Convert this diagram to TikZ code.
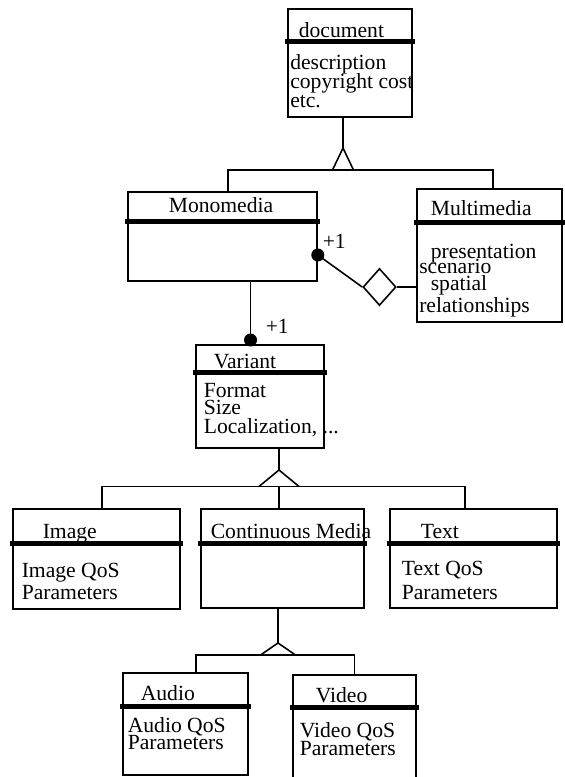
\documentclass[tikz,border=0pt]{standalone}
\usepackage{fontspec}
\setmainfont{Liberation Serif}
\usetikzlibrary{shapes.geometric}

\newcommand{\classbar}[2]{\draw[band] ([shift={(-0.05,-#2)}]#1.north west) -- ([shift={(0.05,-#2)}]#1.north east);}

\begin{document}
\begin{tikzpicture}[line width=0.9pt, font=\fontsize{12.3}{14}\selectfont,
    main/.style = {draw, rectangle, inner sep=0pt},
    txt/.style = {inner sep=0pt, anchor=mid west, yshift=-0.06cm},
    band/.style = {line width=0.1cm}]
\useasboundingbox (0,0) rectangle (11.28,-15.54);

% classes
\node[main, minimum width=2.48cm, minimum height=2.16cm] (doc) at (7.00,-1.26) {};
\node[main, minimum width=3.78cm, minimum height=1.78cm] (mono) at (4.45,-4.73) {};
\node[main, minimum width=2.90cm, minimum height=2.66cm] (multi) at (9.79,-5.11) {};
\node[main, minimum width=2.56cm, minimum height=2.06cm] (var) at (5.20,-7.93) {};
\node[main, minimum width=3.34cm, minimum height=2.00cm] (img) at (1.93,-11.18) {};
\node[main, minimum width=3.26cm, minimum height=1.98cm] (cont) at (5.65,-11.17) {};
\node[main, minimum width=3.34cm, minimum height=1.98cm] (text) at (9.47,-11.17) {};
\node[main, minimum width=2.50cm, minimum height=2.04cm] (audio) at (3.71,-14.48) {};
\node[main, minimum width=2.46cm, minimum height=2.12cm] (video) at (7.09,-14.56) {};

\classbar{doc}{0.66}
\classbar{mono}{0.60}
\classbar{multi}{0.68}
\classbar{var}{0.56}
\classbar{img}{0.70}
\classbar{cont}{0.70}
\classbar{text}{0.70}
\classbar{audio}{0.68}
\classbar{video}{0.66}

% names and attributes
\node[txt] (doc-n) at (5.96,-0.60) {document};
\node[txt] (doc-1) at (5.79,-1.24) {description};
\node[txt] (doc-2) at (5.79,-1.63) {copyright cost};
\node[txt] (doc-3) at (5.79,-2.00) {etc.};

\node[txt] (mono-n) at (3.36,-4.10) {Monomedia};

\node[txt] (multi-n) at (8.60,-4.16) {Multimedia};
\node[txt] (multi-1) at (8.60,-5.02) {presentation};
\node[txt] (multi-2) at (8.37,-5.33) {scenario};
\node[txt] (multi-3) at (8.60,-5.66) {spatial};
\node[txt] (multi-4) at (8.37,-6.10) {relationships};

\node[txt] (var-n) at (4.26,-7.22) {Variant};
\node[txt] (var-1) at (4.06,-7.80) {Format};
\node[txt] (var-2) at (4.06,-8.14) {Size};
\node[txt] (var-3) at (4.06,-8.52) {Localization, ...};

\node[txt] (img-n) at (0.84,-10.62) {Image};
\node[txt] (img-1) at (0.42,-11.40) {Image QoS};
\node[txt] (img-2) at (0.42,-11.84) {Parameters};

\node[txt] (cont-n) at (4.20,-10.62) {Continuous Media};

\node[txt] (text-n) at (8.40,-10.62) {Text};
\node[txt] (text-1) at (8.02,-11.36) {Text QoS};
\node[txt] (text-2) at (8.02,-11.84) {Parameters};

\node[txt] (audio-n) at (2.80,-13.86) {Audio};
\node[txt] (audio-1) at (2.54,-14.50) {Audio QoS};
\node[txt] (audio-2) at (2.54,-14.84) {Parameters};

\node[txt] (video-n) at (6.30,-13.90) {Video};
\node[txt] (video-1) at (5.98,-14.60) {Video QoS};
\node[txt] (video-2) at (5.98,-14.96) {Parameters};

% inheritance forks
\coordinate (t1) at (6.86,-2.96);
\coordinate (g1) at (6.86,-3.40);
\draw (doc.south -| t1) -- (t1);
\draw ([xshift=-0.21cm]g1) -- (t1) -- ([xshift=0.21cm]g1);
\draw ([xshift=0.11cm]mono.north) |- (g1) -| ([xshift=0.07cm]multi.north);

\coordinate (t2) at (5.58,-9.40);
\coordinate (g2) at (5.58,-9.73);
\draw (var.south -| t2) -- (t2);
\draw ([xshift=-0.40cm]g2) -- (t2) -- ([xshift=0.40cm]g2);
\draw ([xshift=0.11cm]img.north) |- (g2) -| ([xshift=-0.17cm]text.north);
\draw (g2) -- (g2 |- cont.north);

\coordinate (t3) at (5.56,-12.86);
\coordinate (g3) at (5.56,-13.10);
\draw (cont.south -| t3) -- (t3);
\draw ([xshift=-0.35cm]g3) -- (t3) -- ([xshift=0.35cm]g3);
\draw ([xshift=0.21cm]audio.north) |- (g3) -| (video.north);

% aggregation Monomedia - Multimedia
\node[draw, diamond, minimum width=0.66cm, minimum height=0.74cm, inner sep=0pt] (agg) at (7.59,-5.74) {};
\coordinate (p1) at (mono.east |- 0,-5.10);
\draw (p1) -- (agg.west);
\draw (agg.east) -- (agg.east -| multi.west);
\fill (p1) circle (0.13);
\node[txt] (m1) at (6.44,-4.82) {+1};

% Monomedia - Variant
\coordinate (p2) at (5.01,-6.80);
\draw (p2 |- mono.south) -- (p2);
\fill (p2) circle (0.13);
\node[txt] (m2) at (5.30,-6.52) {+1};
\end{tikzpicture}
\end{document}
